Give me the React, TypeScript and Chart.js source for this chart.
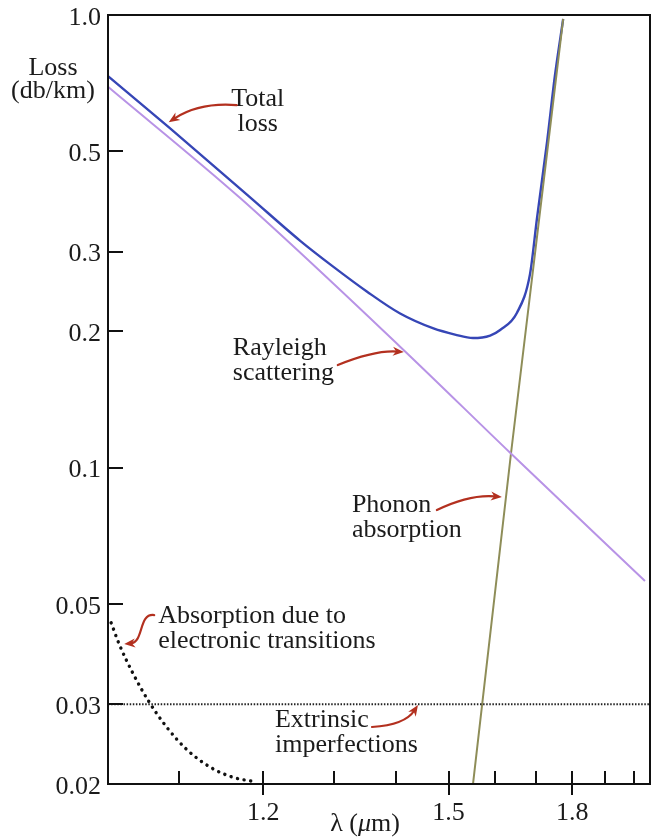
import React, { useEffect, useRef } from 'react';
import { Chart, LinearScale, registerables } from 'chart.js';

Chart.register(...registerables);

// ---- Axis ranges and ticks ----
const X_LAMBDA_MIN = 1.028;
const X_LAMBDA_MAX = 2.059;
const X_TICKS = [1.1, 1.2, 1.3, 1.4, 1.5, 1.6, 1.7, 1.8, 1.9, 2.0];
const X_TICK_LABELS = ['', '1.2', '', '', '1.5', '', '', '1.8', '', ''];
const Y_MIN = 0.02;
const Y_MAX = 1.0;
const Y_TICKS = [0.02, 0.03, 0.05, 0.1, 0.2, 0.3, 0.5, 1.0];
const Y_TICK_LABELS = ['0.02', '0.03', '0.05', '0.1', '0.2', '0.3', '0.5', '1.0'];

// ---- Series (wavelength in µm, loss in dB/km) ----
const TOTAL_LAMBDA = [1.028, 1.090, 1.183, 1.250, 1.298, 1.351, 1.408, 1.470, 1.513, 1.551, 1.589, 1.612, 1.652, 1.685, 1.703, 1.730, 1.751, 1.774];
const TOTAL_LOSS = [0.733, 0.563, 0.396, 0.317, 0.278, 0.245, 0.219, 0.203, 0.1968, 0.1933, 0.1958, 0.2014, 0.2196, 0.268, 0.356, 0.528, 0.735, 0.98];

const RAYLEIGH_LAMBDA = [1.028, 1.171, 1.408, 1.635, 2.040];
const RAYLEIGH_LOSS = [0.694, 0.394, 0.185, 0.108, 0.0562];

const PHONON_LAMBDA = [1.551, 1.638, 1.774];
const PHONON_LOSS = [0.02, 0.108, 0.98];

const EXTRINSIC_LAMBDA = [1.028, 2.059];
const EXTRINSIC_LOSS = [0.03, 0.03];

const ELECTRONIC_LAMBDA = [1.031, 1.039, 1.052, 1.068, 1.087, 1.109, 1.135, 1.162, 1.192];
const ELECTRONIC_LOSS = [0.0454, 0.0406, 0.0352, 0.0305, 0.0267, 0.0238, 0.0218, 0.0207, 0.0202];

// ---- Annotations: text anchored in data coords; arrow shape as pixel offsets from anchor ----
const NOTE_TEXTS = [['Total', 'loss'], ['Rayleigh', 'scattering'], ['Phonon', 'absorption'], ['Absorption due to', 'electronic transitions'], ['Extrinsic', 'imperfections']];
const NOTE_LAMBDA = [1.193, 1.162, 1.327, 1.078, 1.2155];
const NOTE_LOSS = [0.629, 0.1773, 0.0798, 0.04535, 0.02673];
const NOTE_ALIGN = ['center', 'left', 'left', 'left', 'left'];
const NOTE_ARROWS = [
  [[-21, -1], [-58, -4], [-89, 16]],
  [[105, 10], [142, -5], [171, -3]],
  [[85, -2], [118, -18], [150, -15]],
  [[-4, -8], [-20, -10], [-14, 19], [-34, 21]],
  [[97, 0], [130, -2], [143, -22]],
];

const FONT = '"Liberation Serif", "Times New Roman", serif';
const TEXT_COLOR = '#1b1b1b';
const ARROW_COLOR = '#b3301f';

const zip = (xs: number[], ys: number[]) => xs.map((x, i) => ({ x, y: ys[i] }));

// Axis linear in 1/λ, increasing λ to the right
class ReciprocalScale extends LinearScale {
  static id = 'reciprocal';
  determineDataLimits() {
    this.min = 1 / X_LAMBDA_MAX;
    this.max = 1 / X_LAMBDA_MIN;
  }
  getPixelForValue(value: any) {
    if (value === null || value === undefined) return NaN;
    return super.getPixelForValue(1 / value);
  }
  getValueForPixel(pixel: number) {
    return 1 / (super.getValueForPixel(pixel) as number);
  }
}
Chart.register(ReciprocalScale as any);

function drawArrow(ctx: CanvasRenderingContext2D, pts: number[][]) {
  ctx.save();
  ctx.strokeStyle = ARROW_COLOR;
  ctx.fillStyle = ARROW_COLOR;
  ctx.lineWidth = 2.2;
  ctx.lineCap = 'round';
  const tip = pts[pts.length - 1];
  const prev = pts[pts.length - 2];
  const ang = Math.atan2(tip[1] - prev[1], tip[0] - prev[0]);
  const len = 11;
  const end = [tip[0] - Math.cos(ang) * len * 0.6, tip[1] - Math.sin(ang) * len * 0.6];
  ctx.beginPath();
  ctx.moveTo(pts[0][0], pts[0][1]);
  if (pts.length === 3) ctx.quadraticCurveTo(pts[1][0], pts[1][1], end[0], end[1]);
  else ctx.bezierCurveTo(pts[1][0], pts[1][1], pts[2][0], pts[2][1], end[0], end[1]);
  ctx.stroke();
  const w = 4.5;
  const bx = tip[0] - Math.cos(ang) * len;
  const by = tip[1] - Math.sin(ang) * len;
  const nx = tip[0] - Math.cos(ang) * len * 0.7;
  const ny = tip[1] - Math.sin(ang) * len * 0.7;
  ctx.beginPath();
  ctx.moveTo(tip[0], tip[1]);
  ctx.lineTo(bx - Math.sin(ang) * w, by + Math.cos(ang) * w);
  ctx.lineTo(nx, ny);
  ctx.lineTo(bx + Math.sin(ang) * w, by - Math.cos(ang) * w);
  ctx.closePath();
  ctx.fill();
  ctx.restore();
}

const decorPlugin = {
  id: 'decor',
  afterDatasetsDraw(chart: any) {
    const { ctx, chartArea: a, scales } = chart;
    const xs = scales.x;
    const ys = scales.y;
    ctx.save();
    ctx.strokeStyle = '#111';
    ctx.lineWidth = 2;
    ctx.strokeRect(a.left, a.top, a.right - a.left, a.bottom - a.top);
    ctx.beginPath();
    ys.ticks.forEach((t: any) => {
      const y = Math.round(ys.getPixelForValue(t.value));
      if (y <= a.top + 2 || y >= a.bottom - 2) return;
      ctx.moveTo(a.left, y);
      ctx.lineTo(a.left + 15, y);
    });
    xs.ticks.forEach((t: any, i: number) => {
      const x = Math.round(xs.getPixelForValue(t.value));
      const major = X_TICK_LABELS[i] !== '';
      ctx.moveTo(x, a.bottom - 13);
      ctx.lineTo(x, major ? a.bottom + 11 : a.bottom);
    });
    ctx.stroke();

    // axis titles
    ctx.fillStyle = TEXT_COLOR;
    ctx.font = `26px ${FONT}`;
    ctx.textAlign = 'center';
    ctx.textBaseline = 'alphabetic';
    ctx.fillText('Loss', a.left - 55, a.top + 60);
    ctx.fillText('(db/km)', a.left - 55, a.top + 83);

    const p1 = 'λ (';
    const p2 = 'μ';
    const p3 = 'm)';
    ctx.font = `26px ${FONT}`;
    const w1 = ctx.measureText(p1).width;
    const w3 = ctx.measureText(p3).width;
    ctx.font = `italic 26px ${FONT}`;
    const w2 = ctx.measureText(p2).width;
    const cx = a.left + 257;
    const by = a.bottom + 47;
    let x0 = cx - (w1 + w2 + w3) / 2;
    ctx.textAlign = 'left';
    ctx.font = `26px ${FONT}`;
    ctx.fillText(p1, x0, by);
    ctx.font = `italic 26px ${FONT}`;
    ctx.fillText(p2, x0 + w1, by);
    ctx.font = `26px ${FONT}`;
    ctx.fillText(p3, x0 + w1 + w2, by);

    // annotations
    NOTE_TEXTS.forEach((lines, i) => {
      const ax = xs.getPixelForValue(NOTE_LAMBDA[i]);
      const ay = ys.getPixelForValue(NOTE_LOSS[i]);
      ctx.font = `26px ${FONT}`;
      ctx.fillStyle = TEXT_COLOR;
      ctx.textAlign = NOTE_ALIGN[i] as CanvasTextAlign;
      lines.forEach((ln, j) => ctx.fillText(ln, ax, ay + j * 25));
      drawArrow(ctx, NOTE_ARROWS[i].map((p) => [ax + p[0], ay + p[1]]));
    });
    ctx.restore();
  },
};

export default function App() {
  const ref = useRef<HTMLCanvasElement | null>(null);
  useEffect(() => {
    if (!ref.current) return;
    const line = (extra: any) => ({ pointRadius: 0, fill: false, ...extra });
    const chart = new Chart(ref.current, {
      type: 'line',
      data: {
        datasets: [
          line({ label: 'Rayleigh scattering', data: zip(RAYLEIGH_LAMBDA, RAYLEIGH_LOSS), borderColor: '#b893e6', borderWidth: 2, cubicInterpolationMode: 'monotone' }),
          line({ label: 'Extrinsic imperfections', data: zip(EXTRINSIC_LAMBDA, EXTRINSIC_LOSS), borderColor: '#222', borderWidth: 2, borderDash: [1.5, 1.6] }),
          line({ label: 'Electronic transitions', data: zip(ELECTRONIC_LAMBDA, ELECTRONIC_LOSS), borderColor: '#111', borderWidth: 3.4, borderDash: [0.1, 6.6], borderCapStyle: 'round', cubicInterpolationMode: 'monotone' }),
          line({ label: 'Phonon absorption', data: zip(PHONON_LAMBDA, PHONON_LOSS), borderColor: '#8e8d58', borderWidth: 2, tension: 0 }),
          line({ label: 'Total loss', data: zip(TOTAL_LAMBDA, TOTAL_LOSS), borderColor: '#3646b6', borderWidth: 2.4, cubicInterpolationMode: 'monotone' }),
        ],
      },
      options: {
        animation: false,
        responsive: false,
        events: [],
        layout: { padding: { top: 15, right: 3, left: 0, bottom: 0 } },
        plugins: { legend: { display: false }, tooltip: { enabled: false } },
        scales: {
          x: {
            type: 'reciprocal' as any,
            reverse: true,
            bounds: 'data',
            grid: { display: false, drawTicks: false },
            border: { display: false },
            afterBuildTicks: (s: any) => { s.ticks = X_TICKS.map((v) => ({ value: v })); },
            afterFit: (s: any) => { s.height = 54; s.paddingLeft = 0; s.paddingRight = 0; },
            ticks: {
              autoSkip: false,
              maxRotation: 0,
              padding: 14,
              color: TEXT_COLOR,
              font: { family: FONT, size: 26 },
              callback: (_v: any, i: number) => X_TICK_LABELS[i],
            },
          } as any,
          y: {
            type: 'logarithmic',
            min: Y_MIN,
            max: Y_MAX,
            bounds: 'data',
            grid: { display: false, drawTicks: false },
            border: { display: false },
            afterBuildTicks: (s: any) => { s.ticks = Y_TICKS.map((v) => ({ value: v })); },
            afterFit: (s: any) => { s.width = 108; s.paddingTop = 0; s.paddingBottom = 0; },
            ticks: {
              autoSkip: false,
              padding: 7,
              labelOffset: 3,
              color: TEXT_COLOR,
              font: { family: FONT, size: 26 },
              callback: (_v: any, i: number) => Y_TICK_LABELS[i],
            },
          } as any,
        },
      },
      plugins: [decorPlugin],
    });
    return () => chart.destroy();
  }, []);
  return (
    <div style={{ position: 'absolute', left: 0, top: 0, width: 653, height: 838, background: '#fff' }}>
      <canvas ref={ref} width={653} height={838} style={{ display: 'block', width: 653, height: 838 }} />
    </div>
  );
}
